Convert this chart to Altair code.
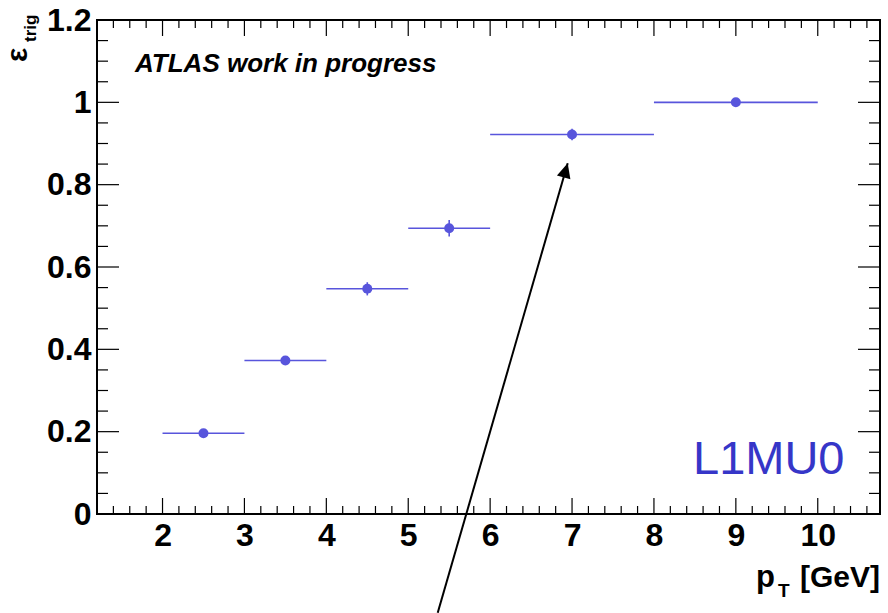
import altair as alt
import pandas as pd

# Trigger efficiency per pT bin (bin edges, central value, stat. error)
bin_lo = [2, 3, 4, 5, 6, 8]
bin_hi = [3, 4, 5, 6, 8, 10]
eff = [0.196, 0.373, 0.547, 0.694, 0.922, 1.0]
eff_err = [0.006, 0.008, 0.016, 0.020, 0.014, 0.003]

# Axis ticks
x_major = [2, 3, 4, 5, 6, 7, 8, 9, 10]
x_minor = [round(m + 0.2 * k, 1) for m in range(1, 11) for k in range(1, 5)
           if 1.2 < m + 0.2 * k < 10.76]
y_major = [0, 0.2, 0.4, 0.6, 0.8, 1, 1.2]
y_minor = [round(0.05 * i, 2) for i in range(1, 24) if i % 4]

# Annotation arrow: tail and head in data coordinates
arrow_x = [5.36, 6.947]
arrow_y = [-0.24, 0.852]

W, H = 783, 494
FONT = "Liberation Sans"
MARKER = "#5855dc"

xs = alt.Scale(domain=[1.2, 10.76], nice=False, zero=False)
ys = alt.Scale(domain=[0, 1.2], nice=False, zero=False)

df = pd.DataFrame({
    "lo": bin_lo, "hi": bin_hi, "eff": eff,
    "mid": [(a + b) / 2 for a, b in zip(bin_lo, bin_hi)],
    "elo": [e - d for e, d in zip(eff, eff_err)],
    "ehi": [e + d for e, d in zip(eff, eff_err)],
})

x_axis = alt.Axis(values=x_major, ticks=False, domain=False, grid=False,
                  labelFont=FONT, labelFontSize=32, labelFontWeight="bold",
                  labelColor="black", labelPadding=6, labelFlush=False, title=None)
y_axis = alt.Axis(values=y_major, format="~g", ticks=False, domain=False, grid=False,
                  labelFont=FONT, labelFontSize=32, labelFontWeight="bold",
                  labelColor="black", labelPadding=6, labelFlush=False, title=None)


def X(field):
    return alt.X(field, scale=xs, axis=x_axis)


def Y(field):
    return alt.Y(field, scale=ys, axis=y_axis)


# horizontal bin-width bars, vertical error bars, markers
hbars = alt.Chart(df).mark_rule(color=MARKER, strokeWidth=1.6).encode(
    x=X("lo:Q"), x2="hi:Q", y=Y("eff:Q"))
vbars = alt.Chart(df).mark_rule(color=MARKER, strokeWidth=1.6).encode(
    x=X("mid:Q"), y=Y("elo:Q"), y2="ehi:Q")
points = alt.Chart(df).mark_circle(color=MARKER, size=100, opacity=1).encode(
    x=X("mid:Q"), y=Y("eff:Q"))


def xticks(vals, length):
    d = pd.DataFrame({"v": vals})
    bottom = alt.Chart(d).mark_rule(color="black", strokeWidth=1.2).encode(
        x=X("v:Q"), y=alt.value(H), y2=alt.value(H - length))
    top = alt.Chart(d).mark_rule(color="black", strokeWidth=1.2).encode(
        x=X("v:Q"), y=alt.value(0), y2=alt.value(length))
    return [bottom, top]


def yticks(vals, length):
    d = pd.DataFrame({"v": vals})
    left = alt.Chart(d).mark_rule(color="black", strokeWidth=1.2).encode(
        y=Y("v:Q"), x=alt.value(0), x2=alt.value(length))
    right = alt.Chart(d).mark_rule(color="black", strokeWidth=1.2).encode(
        y=Y("v:Q"), x=alt.value(W), x2=alt.value(W - length))
    return [left, right]


ticks = xticks(x_major, 16) + xticks(x_minor, 8) + yticks(y_major, 22) + yticks(y_minor, 11)

# annotation arrow
adf = pd.DataFrame({"x0": [arrow_x[0]], "y0": [arrow_y[0]],
                    "x1": [arrow_x[1]], "y1": [arrow_y[1]]})
arrow_line = alt.Chart(adf).mark_rule(color="black", strokeWidth=2).encode(
    x=X("x0:Q"), y=Y("y0:Q"), x2="x1:Q", y2="y1:Q")
arrow_head = alt.Chart(adf).mark_point(
    shape="M0,0L-0.5,1.05L0.5,1.05Z", filled=True, color="black", opacity=1,
    size=784, angle=16, strokeWidth=0,
).encode(x=X("x1:Q"), y=Y("y1:Q"))


def label(text, x, y, **kw):
    return alt.Chart(pd.DataFrame({"t": [text]})).mark_text(**kw).encode(
        text="t:N", x=alt.value(x), y=alt.value(y))


texts = [
    label("ATLAS work in progress", 38, 52, font=FONT, fontSize=26,
          fontWeight="bold", fontStyle="italic", align="left",
          baseline="alphabetic", color="black"),
    label("L1MU0", 596, 454, font=FONT, fontSize=47, align="left",
          baseline="alphabetic", color="#3636c8"),
    # y title: epsilon with subscript "trig", rotated
    label("ε", -70, 42, font=FONT, fontSize=30, fontWeight="bold", angle=270,
          align="left", baseline="alphabetic", color="black"),
    label("trig", -61, 22, font=FONT, fontSize=17, fontWeight="bold", angle=270,
          align="left", baseline="alphabetic", color="black"),
    # x title: p with subscript T
    label("p", 659, 73 + H, font=FONT, fontSize=31, fontWeight="bold", align="left",
          baseline="alphabetic", color="black"),
    label("T", 681, 83 + H, font=FONT, fontSize=19, fontWeight="bold", align="left",
          baseline="alphabetic", color="black"),
    label("[GeV]", W, 73 + H, font=FONT, fontSize=30, fontWeight="bold", align="right",
          baseline="alphabetic", color="black"),
]

chart = alt.layer(
    hbars, vbars, points, *ticks, arrow_line, arrow_head, *texts
).properties(
    width=W, height=H,
    autosize=alt.AutoSizeParams(type="none"),
    padding={"left": 97, "top": 20, "right": 8, "bottom": 99},
    background="white",
).configure_view(stroke="black", strokeWidth=2)

chart.save("out.html", embed_options={"renderer": "svg", "actions": False})
